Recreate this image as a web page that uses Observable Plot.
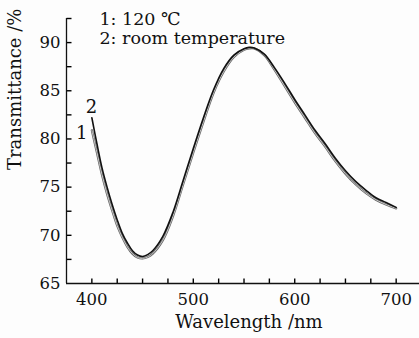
<!DOCTYPE html>
<html><head><meta charset="utf-8">
<script src="https://cdn.jsdelivr.net/npm/d3@7"></script>
<script src="https://cdn.jsdelivr.net/npm/@observablehq/plot@0.6"></script>
<style>
html,body{margin:0;padding:0;background:#fdfdfd;}
svg{display:block;}
svg text{font-family:"DejaVu Serif","Liberation Serif",serif !important;}
</style>
</head><body><div id="chart"></div>
<script>
const wavelength = [400,405,410,415,420,425,430,435,440,445,450,455,460,470,480,490,500,510,520,530,540,550,555,560,570,580,590,600,610,620,630,640,650,660,670,680,690,700];
const series2 = [82.2,79.5,77.0,75.0,73.2,71.6,70.2,69.2,68.4,67.95,67.8,68.0,68.4,69.9,72.4,75.7,79.0,82.2,85.1,87.3,88.7,89.35,89.5,89.45,88.8,87.4,85.8,84.1,82.5,80.9,79.5,78.0,76.7,75.6,74.7,73.9,73.4,72.9];
const series1 = [80.9,78.6,76.3,74.3,72.6,71.0,69.8,68.8,68.1,67.7,67.6,67.75,68.1,69.5,72.0,75.3,78.6,81.8,84.8,87.0,88.5,89.25,89.4,89.4,88.7,87.2,85.5,83.8,82.2,80.6,79.2,77.7,76.4,75.3,74.4,73.7,73.2,72.8];
const xMajor = [400,500,600,700];
const xMinor = [400,425,450,475,500,525,550,575,600,625,650,675,700];
const yMajor = [65,70,75,80,85,90];
const yMinor = [67.5,70,72.5,75,77.5,80,82.5,85,87.5,90,92.5];
const legendLines = [{t:"1: 120 ℃", x:407.5, y:92.4},{t:"2: room temperature", x:407.5, y:90.45}];
const curveLabels = [{t:"1", x:390, y:80.6},{t:"2", x:399.5, y:83.3}];
const xLabel = "Wavelength /nm";
const yLabel = "Transmittance /%";

const d1 = wavelength.map((w,i)=>({w, v:series1[i]}));
const d2 = wavelength.map((w,i)=>({w, v:series2[i]}));
const font = "DejaVu Serif, Liberation Serif, serif";
const W = 419, H = 338, ML = 66, MR = 0, MT = 18, MB = 55, TICK = 5;
const xDom = [375, 723], yDom = [65, 92.5];
const xTickLen = (xDom[1] - xDom[0]) * TICK / (W - ML - MR);
const yTickLen = (yDom[1] - yDom[0]) * TICK / (H - MT - MB);
const xTicks = xMinor.map(v => ({x: v, y1: yDom[0], y2: yDom[0] + yTickLen}));
const yTicks = yMinor.map(v => ({y: v, x1: xDom[0], x2: xDom[0] + xTickLen}));

const chart = Plot.plot({
  width: W, height: H,
  marginLeft: ML, marginRight: MR, marginTop: MT, marginBottom: MB,
  style: {fontFamily: font, background: "transparent", color: "#111"},
  x: {domain: xDom},
  y: {domain: yDom},
  marks: [
    Plot.link(xTicks, {x1: "x", x2: "x", y1: "y1", y2: "y2", stroke: "#000", strokeWidth: 1.4}),
    Plot.link(yTicks, {y1: "y", y2: "y", x1: "x1", x2: "x2", stroke: "#000", strokeWidth: 1.4}),
    Plot.axisX(xMajor, {tickSize: 0, tickPadding: 10, fontSize: 16.5, fill: "#111", label: null}),
    Plot.axisY(yMajor, {tickSize: 0, tickPadding: 6, fontSize: 16.5, fill: "#111", label: null}),
    Plot.ruleX([xDom[0]], {stroke: "#111", strokeWidth: 1.3}),
    Plot.ruleY([yDom[0]], {stroke: "#111", strokeWidth: 1.3}),
    Plot.line(d1, {x: "w", y: "v", stroke: "#666", strokeWidth: 2.3, curve: "catmull-rom"}),
    Plot.line(d1, {x: "w", y: "v", stroke: "#c4c4c4", strokeWidth: 1.0, curve: "catmull-rom"}),
    Plot.line(d2, {x: "w", y: "v", stroke: "#111", strokeWidth: 1.6, curve: "catmull-rom"}),
    Plot.text(legendLines, {x: "x", y: "y", text: "t", textAnchor: "start", fontSize: 17.5, fill: "#111"}),
    Plot.text(curveLabels, {x: "x", y: "y", text: "t", fontSize: 18, fill: "#111"}),
    Plot.text([xLabel], {frameAnchor: "bottom", dx: 6, dy: 44, fontSize: 18, fill: "#111"}),
    Plot.text([yLabel], {frameAnchor: "left", rotate: -90, dx: -51, dy: 19, fontSize: 18, fill: "#111"})
  ]
});
document.getElementById("chart").appendChild(chart);
</script>
</body></html>
